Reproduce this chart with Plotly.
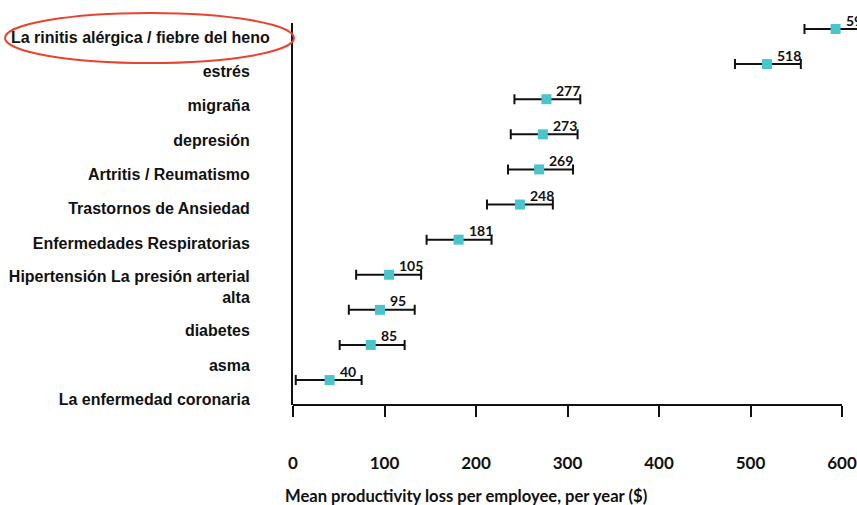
import plotly.graph_objects as go

# ---- data ----
categories = [
    "La rinitis alérgica / fiebre del heno",
    "estrés",
    "migraña",
    "depresión",
    "Artritis / Reumatismo",
    "Trastornos de Ansiedad",
    "Enfermedades Respiratorias",
    "Hipertensión La presión arterial<br>alta",
    "diabetes",
    "asma",
    "La enfermedad coronaria",
]
values = [593, 518, 277, 273, 269, 248, 181, 105, 95, 85, 40]
err_minus = [34, 35, 35, 35, 34, 36, 35, 36, 34, 34, 37]
err_plus = [37, 37, 37, 38, 37, 36, 36, 35, 38, 37, 35]
x_ticks = [0, 100, 200, 300, 400, 500, 600]
x_tick_labels = ["0", "100", "200", "300", "400", "500", "600"]
x_title = "Mean productivity loss per employee, per year ($)"

# ---- layout helpers (positions, not data) ----
rows = list(range(len(values)))
label_pos = [0.23, 1.20, 2.17, 3.16, 4.13, 5.10, 6.10, 7.35, 8.58, 9.57, 10.54]

W, H = 857, 505
L, R, T, B = 293, 0, 23, 100
pw, ph = W - L - R, H - T - B


def px_x(p):
    return (p - L) / pw


def px_y(p):
    return (H - B - p) / ph


teal = "#4bc4cc"
label_font = dict(family="Liberation Sans, Arial, sans-serif", size=16, color="#111111", weight="bold")
num_font = dict(family="Lato, sans-serif", size=14, color="#111111", weight="bold")

fig = go.Figure()
fig.add_trace(
    go.Scatter(
        x=values,
        y=rows,
        mode="markers",
        marker=dict(symbol="square", size=10, color=teal),
        error_x=dict(
            type="data",
            symmetric=False,
            array=err_plus,
            arrayminus=err_minus,
            color="#111111",
            thickness=2,
            width=5,
        ),
        showlegend=False,
        hoverinfo="x+y",
    )
)

# value labels above-right of each marker
for v, r in zip(values, rows):
    fig.add_annotation(
        text=str(v), x=v, y=r, xref="x", yref="y",
        xanchor="left", yanchor="middle", xshift=8, yshift=9,
        showarrow=False, font=num_font,
    )

# x axis line only up to 600
fig.add_shape(
    type="line", xref="x", yref="paper", x0=0, x1=600, y0=0, y1=0,
    line=dict(color="#111111", width=2),
)

# red ellipse around the first label
fig.add_shape(
    type="circle", xref="paper", yref="paper",
    x0=px_x(5), x1=px_x(294), y0=px_y(63), y1=px_y(13),
    line=dict(color="#e8432f", width=2),
)

# first label (drawn wider than the others in the reference)
fig.add_annotation(
    text=categories[0], xref="paper", yref="y", x=px_x(272), y=label_pos[0],
    xanchor="right", yanchor="middle", showarrow=False, font=label_font,
)

# axis title
fig.add_annotation(
    text=x_title, xref="paper", yref="paper", x=px_x(466), y=px_y(496),
    xanchor="center", yanchor="middle", showarrow=False,
    font=dict(family="Lato, sans-serif", size=16.6, color="#111111", weight="bold"),
)

fig.update_layout(
    template="none",
    width=W,
    height=H,
    margin=dict(l=L, r=R, t=T, b=B, pad=0),
    paper_bgcolor="white",
    plot_bgcolor="white",
    xaxis=dict(
        range=[0, pw / 0.915],
        tickvals=x_ticks,
        ticktext=x_tick_labels,
        ticks="outside",
        ticklen=11,
        tickwidth=2,
        tickcolor="#111111",
        showline=False,
        showgrid=False,
        zeroline=False,
        tickfont=dict(family="Lato, sans-serif", size=17, color="#111111", weight="bold"),
        ticklabelstandoff=32,
        ticklabeloverflow="allow",
        automargin=False,
    ),
    yaxis=dict(
        range=[10.71, -0.171],
        tickvals=label_pos[1:],
        ticktext=categories[1:],
        ticks="",
        showline=True,
        linecolor="#111111",
        linewidth=2,
        showgrid=False,
        zeroline=False,
        tickfont=label_font,
        ticklabelstandoff=38,
        automargin=False,
    ),
)

fig.write_html(
    "out.html",
    config={"displayModeBar": False},
    post_script="document.body.style.margin='0';",
)
